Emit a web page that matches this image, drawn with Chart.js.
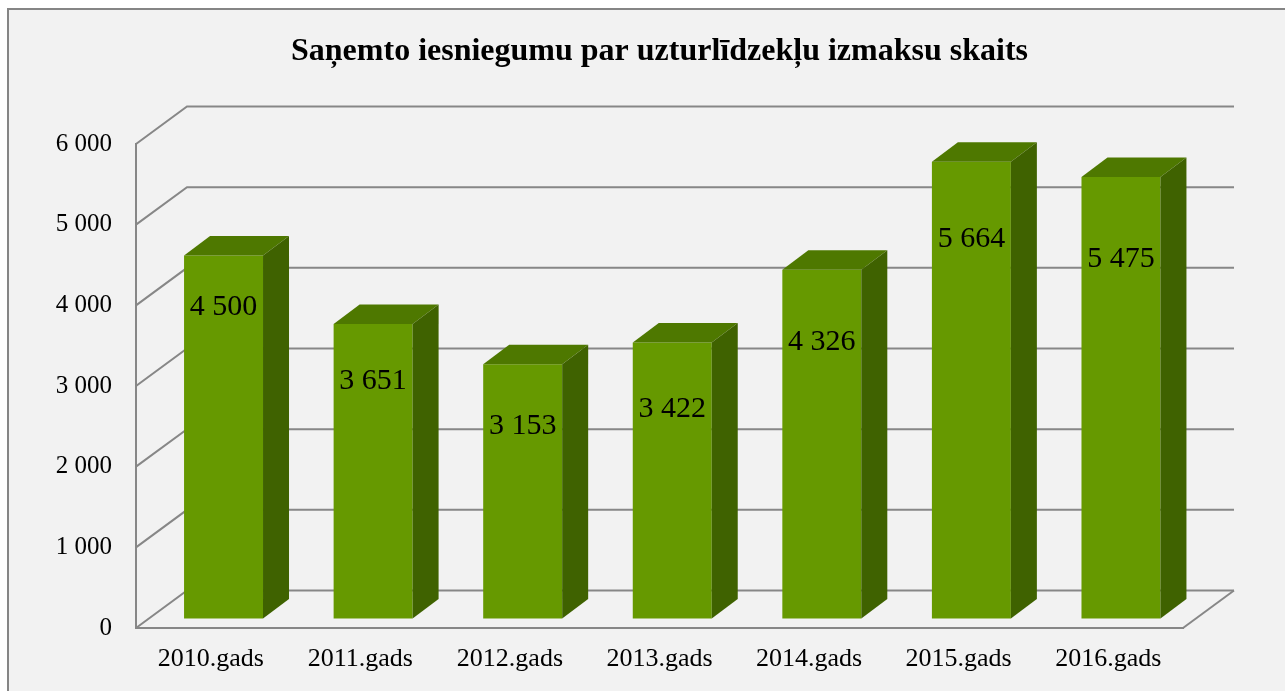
<!DOCTYPE html>
<html>
<head>
<meta charset="utf-8">
<script src="https://cdn.jsdelivr.net/npm/chart.js@4/dist/chart.umd.min.js"></script>
<style>
  body { margin: 0; background: #ffffff; overflow: hidden; }
  #panel {
    position: absolute; left: 7px; top: 8px; width: 1300px; height: 700px;
    border: 2px solid #858585; background: #f2f2f2;
  }
  #myChart { position: absolute; left: 0; top: 0; }
</style>
</head>
<body>
<div id="panel"></div>
<canvas id="myChart" width="1285" height="691"></canvas>
<script>
'use strict';

var chartTitle = 'Saņemto iesniegumu par uzturlīdzekļu izmaksu skaits';
var years = ['2010.gads', '2011.gads', '2012.gads', '2013.gads', '2014.gads', '2015.gads', '2016.gads'];
var applications = [4500, 3651, 3153, 3422, 4326, 5664, 5475];
var yTicks = [0, 1000, 2000, 3000, 4000, 5000, 6000];

// 3d look: back wall offset and bar placement inside the depth
var wallDx = 51;
var wallDy = -37.5;
var barDx = 12.75;
var barDy = -9.4;
var depthDx = 26;
var depthDy = -19.5;

var gridColor = '#878787';
var frontColor = '#669900';
var topColor = '#4e7800';
var sideColor = '#3f6200';

function formatNumber(v) {
  return String(v).replace(/\B(?=(\d{3})+(?!\d))/g, ' ');
}

var wallPlugin = {
  id: 'wall3d',
  beforeDatasetsDraw: function(chart) {
    var ctx = chart.ctx;
    var area = chart.chartArea;
    var y = chart.scales.y;
    ctx.save();
    ctx.strokeStyle = gridColor;
    ctx.lineWidth = 2;
    for (var i = 0; i < yTicks.length; i++) {
      var py = y.getPixelForValue(yTicks[i]);
      ctx.beginPath();
      ctx.moveTo(area.left, py);
      ctx.lineTo(area.left + wallDx, py + wallDy);
      ctx.lineTo(area.right + wallDx, py + wallDy);
      ctx.stroke();
    }
    // floor right edge
    var p0 = y.getPixelForValue(0);
    ctx.beginPath();
    ctx.moveTo(area.right, p0);
    ctx.lineTo(area.right + wallDx, p0 + wallDy);
    ctx.stroke();
    ctx.restore();
  },
  beforeDatasetDraw: function(chart) {
    chart.ctx.save();
    chart.ctx.translate(barDx, barDy);
  },
  afterDatasetDraw: function(chart, args) {
    var ctx = chart.ctx;
    var bars = args.meta.data;
    for (var i = 0; i < bars.length; i++) {
      var b = bars[i];
      var left = b.x - b.width / 2;
      var right = b.x + b.width / 2;
      // top face
      ctx.fillStyle = topColor;
      ctx.beginPath();
      ctx.moveTo(left, b.y);
      ctx.lineTo(left + depthDx, b.y + depthDy);
      ctx.lineTo(right + depthDx, b.y + depthDy);
      ctx.lineTo(right, b.y);
      ctx.closePath();
      ctx.fill();
      // side face
      ctx.fillStyle = sideColor;
      ctx.beginPath();
      ctx.moveTo(right, b.y);
      ctx.lineTo(right + depthDx, b.y + depthDy);
      ctx.lineTo(right + depthDx, b.base + depthDy);
      ctx.lineTo(right, b.base);
      ctx.closePath();
      ctx.fill();
    }
    // value labels
    ctx.fillStyle = '#000000';
    ctx.font = '30px "Liberation Serif", "Times New Roman", serif';
    ctx.textAlign = 'center';
    ctx.textBaseline = 'middle';
    for (var j = 0; j < bars.length; j++) {
      ctx.fillText(formatNumber(applications[j]), bars[j].x, bars[j].y + 52 + 5 * j);
    }
    ctx.restore();
  }
};

var ctx = document.getElementById('myChart').getContext('2d');
var chart = new Chart(ctx, {
  type: 'bar',
  data: {
    labels: years,
    datasets: [{
      data: applications,
      backgroundColor: frontColor,
      borderWidth: 0,
      categoryPercentage: 1,
      barPercentage: 0.528,
      clip: false
    }]
  },
  options: {
    responsive: false,
    animation: false,
    layout: { padding: { left: 0, right: 102, top: 0, bottom: 0 } },
    plugins: {
      legend: { display: false },
      tooltip: { enabled: false },
      title: {
        display: true,
        text: chartTitle,
        fullSize: false,
        color: '#000000',
        font: { family: '"Liberation Serif", "Times New Roman", serif', size: 32, weight: 'bold' },
        padding: { top: 33, bottom: 72.6 }
      }
    },
    scales: {
      x: {
        grid: { display: false, drawTicks: false },
        border: { display: true, color: gridColor, width: 2 },
        ticks: {
          color: '#000000',
          padding: 16,
          font: { family: '"Liberation Serif", "Times New Roman", serif', size: 26 }
        },
        afterFit: function(scale) { scale.height = 63; }
      },
      y: {
        min: 0,
        max: 6000,
        grid: { display: false, drawTicks: false },
        border: { display: true, color: gridColor, width: 2 },
        ticks: {
          stepSize: 1000,
          color: '#000000',
          padding: 24,
          font: { family: '"Liberation Serif", "Times New Roman", serif', size: 25 },
          callback: function(v) { return formatNumber(v); }
        },
        afterFit: function(scale) { scale.width = 136; }
      }
    }
  },
  plugins: [wallPlugin]
});
</script>
</body>
</html>
